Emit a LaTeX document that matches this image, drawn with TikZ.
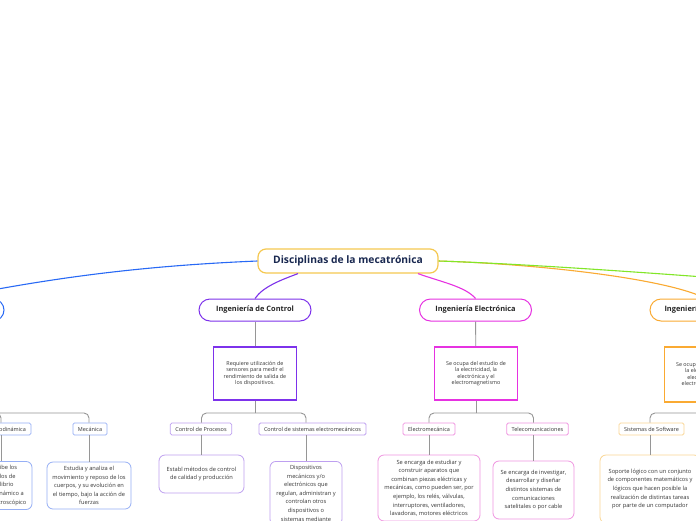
\documentclass[tikz,border=0pt]{standalone}
\usepackage{fontspec}
\setmainfont{Open Sans}
\usepackage{xcolor}
\usetikzlibrary{calc}
\definecolor{mecblue}{RGB}{40,105,245}
\definecolor{ctrlpurple}{RGB}{125,50,235}
\definecolor{elecmag}{RGB}{230,50,225}
\definecolor{infoorange}{RGB}{250,170,50}
\definecolor{linkgreen}{RGB}{130,230,40}
\definecolor{titlebd}{RGB}{245,200,80}
\definecolor{titletxt}{RGB}{25,40,80}
\definecolor{mecsub}{RGB}{150,175,245}
\definecolor{ctrlsub}{RGB}{190,160,240}
\definecolor{elecsub}{RGB}{240,150,225}
\definecolor{infosub}{RGB}{250,215,150}
\definecolor{treegray}{RGB}{150,150,150}
\definecolor{leaftxt}{RGB}{55,55,55}

\begin{document}
\begin{tikzpicture}[
    x=1pt, y=-1pt,
    title/.style={draw=titlebd, line width=1.2pt, rounded corners=8pt,
                fill=white, minimum width=180pt, minimum height=24pt,
                text=titletxt, font=\bfseries\fontsize{10.3}{12}\selectfont},
    branch/.style={draw=#1, line width=1pt, rounded corners=11pt,
                fill=white, minimum width=112pt, minimum height=22pt,
                text=black!85, font=\bfseries\fontsize{7.4}{8}\selectfont},
    desc/.style={draw=#1, line width=1.6pt, fill=white,
                minimum width=83pt, minimum height=53pt, align=center,
                text=leaftxt, font=\fontsize{5.4}{6.2}\selectfont},
    sub/.style={draw=#1, line width=0.8pt, rounded corners=1.5pt,
                fill=white, minimum height=12pt, inner xsep=5pt,
                text=black!80, font=\fontsize{5.5}{6}\selectfont},
    leaf/.style={draw=#1, line width=0.8pt, rounded corners=6pt,
                fill=white, align=center, inner ysep=4pt,
                text=leaftxt, font=\fontsize{5.7}{8.6}\selectfont},
    tree/.style={draw=treegray, line width=0.9pt, rounded corners=5pt},
    link/.style={draw=#1, line width=1.1pt},
  ]
    \useasboundingbox (0,0) rectangle (696,520);
    \clip (0,0) rectangle (696,520);
    \fill[white] (0,0) rectangle (696,520);

    % Central topic
    \node[title] (title) at (348,261) {Disciplinas de la mecatrónica};

    % Main branches
    \node[branch=mecblue] (mec) at (-52,310) {Ingeniería Mecánica};
    \node[branch=ctrlpurple] (ctrl) at (255,310) {Ingeniería de Control};
    \node[branch=elecmag] (elec) at (475.5,310) {Ingeniería Electrónica};
    \node[branch=infoorange] (info) at (706,310) {Ingeniería Informática};
    \coordinate (fifth) at (1000,299);

    \draw[link=mecblue] (title.west) .. controls +(-120,5) and +(100,-20) .. (mec.north);
    \draw[link=ctrlpurple] ([xshift=-50pt]title.south) .. controls +(-16,6) and +(8,-12) .. (ctrl.north);
    \draw[link=elecmag] ([xshift=70pt]title.south) .. controls +(22,8) and +(-10,-12) .. (elec.north);
    \draw[link=infoorange] (title.east) .. controls +(100,3) and +(-40,-20) .. (info.north);
    \draw[link=linkgreen] (title.east) .. controls +(150,5) and +(-150,-10) .. (fifth);

    % Descriptions
    \node[desc=ctrlpurple] (cdesc) at (255,373.5)
      {Requiere utilización de\\sensores para medir el\\rendimiento de salida de\\los dispositivos.};
    \node[desc=elecmag] (edesc) at (476,373.5)
      {Se ocupa del estudio de\\la electricidad, la\\electrónica y el\\electromagnetismo};
    \node[desc=infoorange, minimum height=55pt] (idesc) at (706,374.5)
      {Se ocupa del estudio de\\la electricidad, la\\electrónica y el\\electromagnetismo};

    \draw[tree] (ctrl) -- (cdesc);
    \draw[tree] (elec) -- (edesc);
    \draw[tree] (info) -- (idesc);

    % Branching points
    \coordinate (mbar) at (-52,413);
    \coordinate (cbar) at (255,413);
    \coordinate (ebar) at (476,413);
    \coordinate (ibar) at (706,413);
    \draw[tree] (cdesc) -- (cbar);
    \draw[tree] (edesc) -- (ebar);
    \draw[tree] (idesc) -- (ibar);

    % Sub-topics
    \node[sub=mecsub, minimum width=48pt] (termo) at (6,429) {Termodinámica};
    \node[sub=mecsub] (mecan) at (90,429) {Mecánica};
    \node[sub=ctrlsub] (cproc) at (201,429) {Control de Procesos};
    \node[sub=ctrlsub] (csys) at (312.5,429) {Control de sistemas electromecánicos};
    \node[sub=elecsub] (emec) at (429,429) {Electromecánica};
    \node[sub=elecsub] (tele) at (537.5,429) {Telecomunicaciones};
    \node[sub=infosub] (soft) at (651.5,429) {Sistemas de Software};

    % Leaves
    \node[leaf=mecsub, minimum width=62pt, minimum height=47pt] (termleaf) at (1,485.5)
      {Describe los\\estados de\\equilibrio\\termodinámico a\\nivel macroscópico};
    \node[leaf=mecsub, minimum width=84pt, minimum height=47pt] (mleaf) at (89,485.5)
      {Estudia y analiza el\\movimiento y reposo de los\\cuerpos, y su evolución en\\el tiempo, bajo la acción de\\fuerzas};
    \node[leaf=ctrlsub, minimum width=85pt, minimum height=38pt] (cpleaf) at (201.5,474)
      {Establ métodos de control\\de calidad y producción};
    \node[leaf=ctrlsub, minimum width=72pt, anchor=north] (csleaf) at (306,461)
      {Dispositivos\\mecánicos y/o\\electrónicos que\\regulan, administran y\\controlan otros\\dispositivos o\\sistemas mediante};
    \node[leaf=elecsub, minimum width=102pt, minimum height=66pt] (emleaf) at (429,488)
      {Se encarga de estudiar y\\construir aparatos que\\combinan piezas eléctricas y\\mecánicas, como pueden ser, por\\ejemplo, los relés, válvulas,\\interruptores, ventiladores,\\lavadoras, motores eléctricos};
    \node[leaf=elecsub, minimum width=81pt, minimum height=58pt] (tleaf) at (533.5,490)
      {Se encarga de investigar,\\desarrollar y diseñar\\distintos sistemas de\\comunicaciones\\satelitales o por cable};
    \node[leaf=infosub, minimum width=100pt, minimum height=68pt] (sleaf) at (650,489)
      {Soporte lógico con un conjunto\\de componentes matemáticos y\\lógicos que hacen posible la\\realización de distintas tareas\\por parte de un computador};

    % Tree connectors
    \foreach \trunk/\kid/\note in {mbar/termo/termleaf, mbar/mecan/mleaf,
        cbar/cproc/cpleaf, cbar/csys/csleaf, ebar/emec/emleaf,
        ebar/tele/tleaf, ibar/soft/sleaf}{
      \draw[tree] (\trunk) -| (\note.north |- \kid.north);
      \draw[tree] (\note.north |- \kid.south) -- (\note.north);
    }
  \end{tikzpicture}
\end{document}
